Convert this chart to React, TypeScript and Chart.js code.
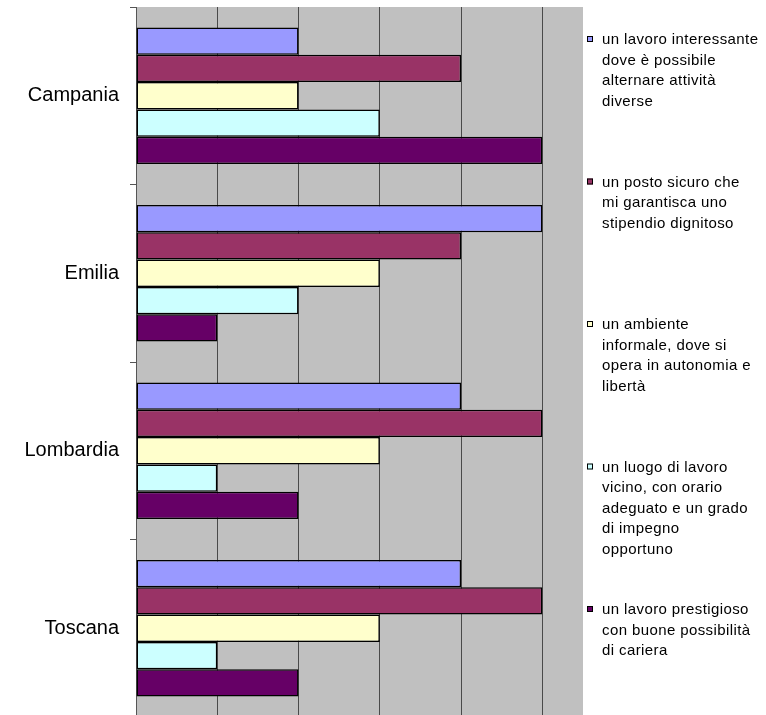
import React, { useEffect, useRef } from "react";
import { Chart, registerables } from "chart.js";

Chart.register(...registerables);

// ---- data ----
const regions = ["Campania", "Emilia", "Lombardia", "Toscana"];

const seriesLines: string[][] = [
  ["un lavoro interessante", "dove è possibile", "alternare attività", "diverse"],
  ["un posto sicuro che", "mi garantisca uno", "stipendio dignitoso"],
  ["un ambiente", "informale, dove si", "opera in autonomia e", "libertà"],
  ["un luogo di lavoro", "vicino, con orario", "adeguato e un grado", "di impegno", "opportuno"],
  ["un lavoro prestigioso", "con buone possibilità", "di cariera"],
];

const lavoroInteressante = [2, 5, 4, 4];
const postoSicuro = [4, 4, 5, 5];
const ambienteInformale = [2, 3, 3, 3];
const luogoVicino = [3, 2, 1, 1];
const lavoroPrestigioso = [5, 1, 2, 2];

const seriesValues = [lavoroInteressante, postoSicuro, ambienteInformale, luogoVicino, lavoroPrestigioso];
const seriesColors = ["#9999FF", "#993366", "#FFFFCC", "#CCFFFF", "#660066"];

const axisMin = 0;
const axisMax = 5.5;

const FONT = "'Liberation Sans', Arial, sans-serif";

const plotBackground = {
  id: "plotBackground",
  beforeDraw(chart: any) {
    const { ctx, chartArea } = chart;
    ctx.save();
    ctx.fillStyle = "#C0C0C0";
    ctx.fillRect(chartArea.left, chartArea.top, chartArea.right - chartArea.left, chartArea.bottom - chartArea.top);
    ctx.restore();
  },
};

const sideLegend = {
  id: "sideLegend",
  afterDraw(chart: any) {
    const { ctx, chartArea } = chart;
    ctx.save();
    ctx.font = `15px ${FONT}`;
    try {
      (ctx as any).letterSpacing = "0.4px";
    } catch (e) {}
    ctx.textBaseline = "middle";
    ctx.textAlign = "left";
    const boxX = chartArea.right + 4;
    const textX = chartArea.right + 19;
    const firstY = chartArea.top + 33;
    const itemStep = 142.5;
    const lineStep = 20.5;
    chart.data.datasets.forEach((ds: any, i: number) => {
      const y0 = firstY + i * itemStep;
      ctx.fillStyle = ds.backgroundColor;
      ctx.fillRect(boxX, y0 - 4, 6, 6);
      ctx.strokeStyle = "#000";
      ctx.lineWidth = 1;
      ctx.strokeRect(boxX + 0.5, y0 - 3.5, 5, 5);
      ctx.fillStyle = "#000";
      (ds.legendLines as string[]).forEach((line, j) => {
        ctx.fillText(line, textX, y0 + j * lineStep);
      });
    });
    ctx.restore();
  },
};

export default function App() {
  const canvasRef = useRef<HTMLCanvasElement | null>(null);

  useEffect(() => {
    document.body.style.margin = "0";
    const canvas = canvasRef.current;
    if (!canvas) return;
    const chart = new Chart(canvas, {
      type: "bar",
      data: {
        labels: regions,
        datasets: seriesValues.map((vals, i) => ({
          label: seriesLines[i].join(" "),
          legendLines: seriesLines[i],
          data: vals,
          backgroundColor: seriesColors[i],
          borderColor: "#000000",
          borderWidth: 1.5,
          borderSkipped: false,
          categoryPercentage: 0.77,
          barPercentage: 1.0,
        })) as any,
      },
      options: {
        indexAxis: "y",
        responsive: false,
        animation: false,
        devicePixelRatio: 1,
        layout: { padding: { top: 7, right: 183, bottom: 8, left: 0 } },
        plugins: {
          legend: { display: false },
          tooltip: { enabled: false },
        },
        scales: {
          x: {
            min: axisMin,
            max: axisMax,
            ticks: { display: false, stepSize: 1 },
            grid: { color: "#4a4a4a", lineWidth: 1, drawTicks: false },
            border: { display: false },
            afterBuildTicks(scale: any) {
              scale.ticks = scale.ticks.filter((t: any) => Number.isInteger(t.value));
            },
            afterFit(scale: any) {
              scale.height = 0;
              scale.paddingLeft = 0;
              scale.paddingRight = 0;
            },
          },
          y: {
            grid: {
              offset: true,
              drawOnChartArea: false,
              drawTicks: true,
              tickLength: 6,
              color: "#555555",
              lineWidth: 1,
            },
            border: { display: true, color: "#555555", width: 1 },
            ticks: {
              color: "#000000",
              padding: 11,
              font: { family: FONT, size: 20 },
            },
            afterFit(scale: any) {
              scale.width = 136;
              scale.paddingTop = 0;
              scale.paddingBottom = 0;
            },
          },
        },
      },
      plugins: [plotBackground, sideLegend],
    });
    return () => chart.destroy();
  }, []);

  return (
    <div style={{ width: 766, height: 715, overflow: "hidden", position: "relative" }}>
      <canvas ref={canvasRef} width={766} height={725} style={{ display: "block" }} />
    </div>
  );
}
